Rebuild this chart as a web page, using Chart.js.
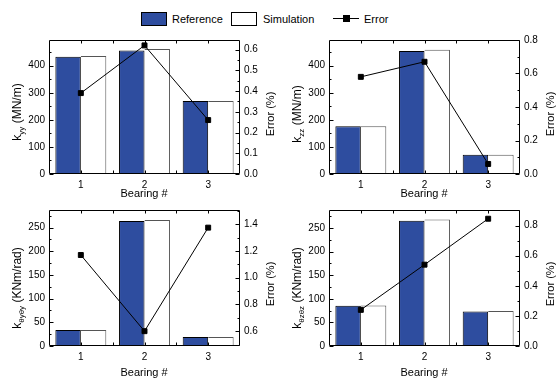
<!DOCTYPE html>
<html>
<head>
<meta charset="utf-8">
<script src="https://cdn.jsdelivr.net/npm/chart.js@4.4.1/dist/chart.umd.min.js"></script>
<style>
  body { margin: 0; background: #fff; width: 557px; height: 381px; overflow: hidden; position: relative;
         font-family: 'Liberation Sans', Arial, sans-serif; color: #000; }
  canvas { position: absolute; }
  .t { position: absolute; white-space: nowrap; font-size: 11px; line-height: 1; transform: translate(-50%, -50%); }
  .rot { transform: translate(-50%, -50%) rotate(-90deg); }
  .yt { font-size: 12px; }
  .yt sub { font-size: 8px; vertical-align: -3px; }
  .lt { position: absolute; white-space: nowrap; font-size: 11px; line-height: 1; transform: translateY(-50%); }
  .box { position: absolute; top: 12px; width: 24px; height: 12px; border: 1px solid #000; }
</style>
</head>
<body>

<!-- legende commune -->
<div class="box" style="left:141px; background:#2e4d9f;"></div>
<div class="lt" style="left:172px; top:19px;">Reference</div>
<div class="box" style="left:231px; background:#fff;"></div>
<div class="lt" style="left:263px; top:19px;">Simulation</div>
<div style="position:absolute; left:333px; top:18px; width:26px; height:1px; background:#000;"></div>
<div style="position:absolute; left:343px; top:15px; width:7px; height:7px; background:#000;"></div>
<div class="lt" style="left:364px; top:19px;">Error</div>

<canvas id="cKyy" width="280" height="170" style="left:0; top:30px;"></canvas>
<canvas id="cKzz" width="280" height="170" style="left:280px; top:30px;"></canvas>
<canvas id="cKthy" width="280" height="181" style="left:0; top:200px;"></canvas>
<canvas id="cKthz" width="280" height="181" style="left:280px; top:200px;"></canvas>

<!-- titres des axes -->
<div class="t rot yt" style="left:18px; top:112px;">k<sub>yy</sub> (MN/m)</div>
<div class="t rot" style="left:270px; top:114px;">Error (%)</div>
<div class="t" style="left:144px; top:193px;">Bearing #</div>

<div class="t rot yt" style="left:298px; top:114px;">k<sub>zz</sub> (MN/m)</div>
<div class="t rot" style="left:550px; top:114px;">Error (%)</div>
<div class="t" style="left:424px; top:193px;">Bearing #</div>

<div class="t rot yt" style="left:18px; top:288px;">k<sub>θyθy</sub> (KNm/rad)</div>
<div class="t rot" style="left:270px; top:284px;">Error (%)</div>
<div class="t" style="left:144px; top:372px;">Bearing #</div>

<div class="t rot yt" style="left:298px; top:288px;">k<sub>θzθz</sub> (KNm/rad)</div>
<div class="t rot" style="left:550px; top:284px;">Error (%)</div>
<div class="t" style="left:424px; top:372px;">Bearing #</div>

<script>
const bearings = ['1', '2', '3'];

const kyyRef = [433, 456, 270];
const kyySim = [436, 462, 270];
const kyyErr = [0.39, 0.62, 0.26];

const kzzRef = [176, 454, 71];
const kzzSim = [176, 459, 71];
const kzzErr = [0.58, 0.67, 0.06];

const kthyRef = [34, 264, 19];
const kthySim = [34, 266, 19];
const kthyErr = [1.17, 0.60, 1.375];

const kthzRef = [85, 265, 73];
const kthzSim = [86, 268, 74];
const kthzErr = [0.24, 0.54, 0.845];

const blue = '#2e4d9f';

Chart.defaults.font.family = "'Liberation Sans', Arial, sans-serif";
Chart.defaults.font.size = 10;
Chart.defaults.color = '#000';

/**
 * Graduations régulières à partir du min (sans ajouter le max)
 * @param step le pas entre deux graduations
 */
function stepTicks(step) {
    return function (scale) {
        let ticks = [];
        let start = Math.ceil(scale.min / step - 1e-9);
        for (let k = start; k * step <= scale.max + 1e-9; k++) {
            ticks.push({value: Math.round(k * step * 1000) / 1000});
        }
        scale.ticks = ticks;
    };
}

/**
 * Cadre + petites graduations vers l'intérieur
 */
const frameTicks = {
    id: 'frameTicks',
    afterDatasetsDraw(chart, args, opts) {
        const ctx = chart.ctx;
        const a = chart.chartArea;
        const L = Math.round(a.left) + 0.5, R = Math.round(a.right) - 0.5;
        const T = Math.round(a.top) + 0.5, B = Math.round(a.bottom) - 0.5;

        ctx.save();
        ctx.strokeStyle = '#000';
        ctx.lineWidth = 1;
        ctx.beginPath();
        ctx.rect(L, T, R - L, B - T);

        function side(scale, minor, major, x, dir) {
            let start = Math.ceil(scale.min / minor - 1e-9) * minor;
            for (let k = 0; start + k * minor <= scale.max + 1e-9; k++) {
                let v = start + k * minor;
                let p = Math.round(scale.getPixelForValue(v)) + 0.5;
                let isMajor = Math.abs(v / major - Math.round(v / major)) < 1e-6;
                ctx.moveTo(x, p);
                ctx.lineTo(x + dir * (isMajor ? 4 : 2), p);
            }
        }
        side(chart.scales.y, opts.yMinor, opts.yStep, L, 1);
        side(chart.scales.y1, opts.eMinor, opts.eStep, R, -1);

        for (let i = 1; i < 6; i++) {
            let p = Math.round(a.left + i * (a.right - a.left) / 6) + 0.5;
            ctx.moveTo(p, B); ctx.lineTo(p, B - 3);
            ctx.moveTo(p, T); ctx.lineTo(p, T + 3);
        }
        ctx.stroke();
        ctx.restore();
    }
};

/**
 * Construit un graphique barres + erreur
 */
function buildGraph(id, ref, sim, err, o) {
    return new Chart(document.getElementById(id), {
        type: 'bar',
        data: {
            labels: bearings,
            datasets: [{
                type: 'line',
                label: 'Error',
                data: err,
                yAxisID: 'y1',
                borderColor: '#000',
                backgroundColor: '#000',
                borderWidth: 1,
                pointStyle: 'rect',
                pointRadius: 3.5,
                order: 0
            }, {
                label: 'Reference',
                data: ref,
                backgroundColor: blue,
                borderColor: '#000',
                borderWidth: {top: 1, left: 1, right: 1, bottom: 0},
                categoryPercentage: 0.8,
                barPercentage: 1.0,
                order: 1
            }, {
                label: 'Simulation',
                data: sim,
                backgroundColor: '#fff',
                borderColor: '#555',
                borderWidth: {top: 1, left: 0, right: 1, bottom: 0},
                categoryPercentage: 0.8,
                barPercentage: 1.0,
                order: 1
            }]
        },
        options: {
            responsive: false,
            animation: false,
            layout: {padding: {top: o.top, left: 0, right: 0, bottom: 0}, autoPadding: false},
            plugins: {
                legend: {display: false},
                tooltip: {enabled: false},
                frameTicks: o
            },
            scales: {
                x: {
                    grid: {display: false, drawTicks: false},
                    border: {display: false},
                    ticks: {padding: 5, maxRotation: 0},
                    afterFit: function (s) { s.height = o.xh; }
                },
                y: {
                    position: 'left',
                    min: 0,
                    max: o.yMax,
                    grid: {display: false, drawTicks: false},
                    border: {display: false},
                    ticks: {padding: 4},
                    afterBuildTicks: stepTicks(o.yStep),
                    afterFit: function (s) { s.width = 49; }
                },
                y1: {
                    position: 'right',
                    min: o.eMin,
                    max: o.eMax,
                    grid: {display: false, drawTicks: false},
                    border: {display: false},
                    ticks: {padding: 4, callback: function (v) { return v.toFixed(1); }},
                    afterBuildTicks: stepTicks(o.eStep),
                    afterFit: function (s) { s.width = 40; }
                }
            }
        },
        plugins: [frameTicks]
    });
}

buildGraph('cKyy', kyyRef, kyySim, kyyErr,
    {top: 7, xh: 26, yMax: 495, yStep: 100, yMinor: 50, eMin: 0, eMax: 0.646, eStep: 0.1, eMinor: 0.05});
buildGraph('cKzz', kzzRef, kzzSim, kzzErr,
    {top: 7, xh: 26, yMax: 495, yStep: 100, yMinor: 50, eMin: 0, eMax: 0.8, eStep: 0.2, eMinor: 0.1});
buildGraph('cKthy', kthyRef, kthySim, kthyErr,
    {top: 8, xh: 35, yMax: 287, yStep: 50, yMinor: 25, eMin: 0.489, eMax: 1.507, eStep: 0.2, eMinor: 0.1});
buildGraph('cKthz', kthzRef, kthzSim, kthzErr,
    {top: 8, xh: 35, yMax: 288, yStep: 50, yMinor: 25, eMin: 0, eMax: 0.903, eStep: 0.2, eMinor: 0.1});
</script>
</body>
</html>
